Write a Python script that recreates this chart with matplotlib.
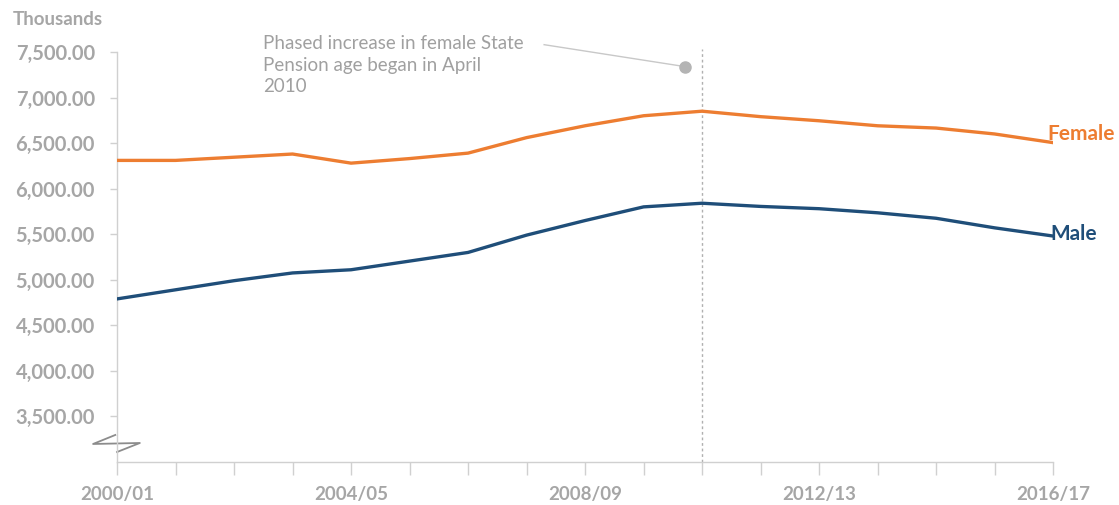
import matplotlib
matplotlib.use("Agg")
import matplotlib.pyplot as plt
from matplotlib.lines import Line2D

plt.rcParams['font.family'] = ['Lato', 'DejaVu Sans']

years = ["2000/01", "2001/02", "2002/03", "2003/04", "2004/05", "2005/06",
         "2006/07", "2007/08", "2008/09", "2009/10", "2010/11", "2011/12",
         "2012/13", "2013/14", "2014/15", "2015/16", "2016/17"]
female = [6310, 6310, 6345, 6380, 6280, 6330, 6390, 6560, 6690, 6800, 6850,
          6790, 6745, 6690, 6665, 6600, 6505]
male = [4790, 4890, 4990, 5075, 5110, 5205, 5300, 5490, 5650, 5800, 5840,
        5805, 5780, 5735, 5675, 5570, 5480]
yticks = [3500, 4000, 4500, 5000, 5500, 6000, 6500, 7000, 7500]
labelled_years = ["2000/01", "2004/05", "2008/09", "2012/13", "2016/17"]
spa_change = "2010/11"
note_point = (9.7, 7340)

grey = "#A6A6A6"
axis_grey = "#D0D0D0"
orange = "#ED7D31"
navy = "#1F4E79"

fig = plt.figure(figsize=(11.19, 5.05), dpi=100)
ax = fig.add_axes([0.1046, 0.0851, 0.8365, 0.812])

x = list(range(len(years)))
ax.plot(x, female, color=orange, lw=2.4, solid_joinstyle="round", zorder=3)
ax.plot(x, male, color=navy, lw=2.4, solid_joinstyle="round", zorder=3)

ax.set_xlim(0, len(years) - 1)
ax.set_ylim(3000, 7500)

# vertical marker for State Pension age change
xv = years.index(spa_change)
ax.plot([xv, xv], [3000, 7530], color="#B0B0B0", lw=1.0, ls=(0, (2, 2)),
        clip_on=False, zorder=2)

# spines
for s in ["top", "right"]:
    ax.spines[s].set_visible(False)
ax.spines["left"].set_color(axis_grey)
ax.spines["bottom"].set_color(axis_grey)
ax.spines["left"].set_linewidth(1.0)
ax.spines["bottom"].set_linewidth(1.0)

ax.set_yticks(yticks)
ax.set_yticklabels([f"{v:,.2f}" for v in yticks])
ax.set_xticks(x, minor=True)
ax.set_xticks([years.index(y) for y in labelled_years])
ax.set_xticklabels(labelled_years)
ax.tick_params(axis="y", colors=axis_grey, length=5, width=1, pad=11,
               labelcolor=grey, labelsize=14.5)
ax.tick_params(axis="x", which="both", colors=axis_grey, length=9, width=1,
               direction="out", labelcolor=grey, labelsize=13.5, pad=8)
for t in ax.get_yticklabels() + ax.get_xticklabels():
    t.set_fontweight("bold")

# axis break symbol
bx = [-0.03, -0.41, 0.39, 0.0]
by = [3297, 3198, 3209, 3110]
ax.add_line(Line2D(bx, by, color="#8C8C8C", lw=1.3, clip_on=False,
                   transform=ax.transData))

# series labels
ax.text(len(years) - 1 - 0.1, female[-1] + 100, "Female", color=orange,
        fontsize=15, fontweight="bold", ha="left", va="center")
ax.text(len(years) - 1 - 0.05, male[-1] + 20, "Male", color=navy,
        fontsize=15, fontweight="bold", ha="left", va="center")

# annotation
ax.text(2.5, 7355, "Phased increase in female State\nPension age began in April\n2010",
        color="#A0A0A0", fontsize=13.5, ha="left", va="center",
        linespacing=1.3)
ax.plot([7.3, note_point[0]], [7580, note_point[1]], color="#C8C8C8",
        lw=1.0, clip_on=False, zorder=2)
ax.plot(*note_point, "o", color="#B4B4B4", ms=8, zorder=4, clip_on=False)

fig.text(0.011, 0.962, "Thousands", color=grey, fontsize=13.5,
         fontweight="bold", ha="left", va="center")

fig.savefig("out.png", dpi=100)
